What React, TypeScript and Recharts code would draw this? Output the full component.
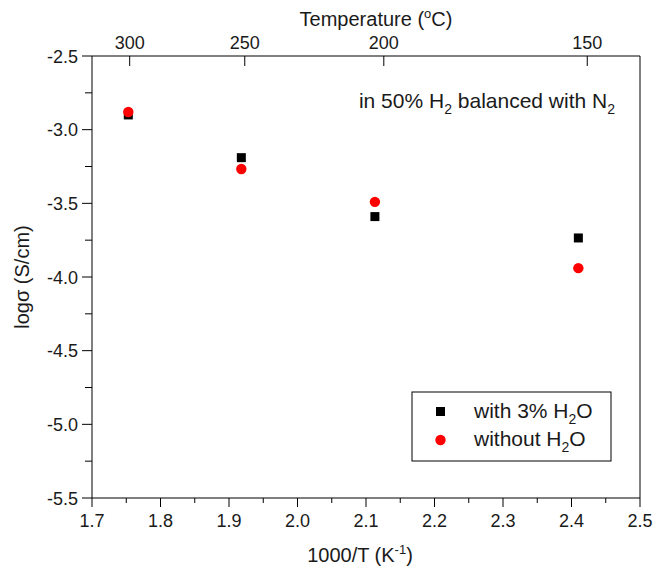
import { ScatterChart, Scatter, XAxis, YAxis } from 'recharts';

// 1000/T values (K^-1) and log conductivity for both atmospheres
const invT = [1.753, 1.918, 2.113, 2.41];
const withH2O = [-2.9, -3.19, -3.59, -3.735];
const withoutH2O = [-2.88, -3.267, -3.49, -3.94];

const xTicks = [1.7, 1.75, 1.8, 1.85, 1.9, 1.95, 2.0, 2.05, 2.1, 2.15, 2.2, 2.25, 2.3, 2.35, 2.4, 2.45, 2.5];
const yTicks = [-5.5, -5.25, -5.0, -4.75, -4.5, -4.25, -4.0, -3.75, -3.5, -3.25, -3.0, -2.75, -2.5];
const tempTicks = [1.755, 1.923, 2.126, 2.423];
const tempLabels = ['300', '250', '200', '150'];

const wetData = invT.map((x, i) => ({ x, y: withH2O[i] }));
const dryData = invT.map((x, i) => ({ x, y: withoutH2O[i] }));

const FONT = '"Liberation Sans", Arial, sans-serif';
const INK = '#1a1a1a';

const isMajor = (v: number, step: number) => Math.abs(v / step - Math.round(v / step)) < 1e-6;

const BottomTick = (props: any) => {
  const { x, y, payload } = props;
  const v = payload.value;
  const major = isMajor(v, 0.1);
  return (
    <g>
      <line x1={x} x2={x} y1={y} y2={y + (major ? 9 : 5)} stroke="#000" />
      {major && (
        <text x={x} y={y + 29} textAnchor="middle" fontSize={18} fontFamily={FONT} fill={INK}>
          {v.toFixed(1)}
        </text>
      )}
    </g>
  );
};

const LeftTick = (props: any) => {
  const { x, y, payload } = props;
  const v = payload.value;
  const major = isMajor(v, 0.5);
  return (
    <g>
      <line x1={x - (major ? 10 : 7)} x2={x} y1={y} y2={y} stroke="#000" />
      {major && (
        <text x={x - 14} y={y + 6.5} textAnchor="end" fontSize={18} fontFamily={FONT} fill={INK}>
          {v.toFixed(1)}
        </text>
      )}
    </g>
  );
};

const TopTick = (props: any) => {
  const { x, y, payload } = props;
  const idx = tempTicks.findIndex((t) => Math.abs(t - payload.value) < 1e-6);
  return (
    <g>
      <line x1={x} x2={x} y1={y} y2={y + 10} stroke="#000" />
      <text x={x} y={y - 7} textAnchor="middle" fontSize={18} fontFamily={FONT} fill={INK}>
        {idx >= 0 ? tempLabels[idx] : ''}
      </text>
    </g>
  );
};

const squareShape = (p: any) => <rect x={p.cx - 4.5} y={p.cy - 4.5} width={9} height={9} fill="#000" />;
const circleShape = (p: any) => <circle cx={p.cx} cy={p.cy} r={5.2} fill="#ff0000" />;
const noShape = () => <g />;

export default function App() {
  return (
    <div style={{ position: 'absolute', left: 0, top: 0, background: '#fff' }}>
      <ScatterChart width={653} height={573} margin={{ top: 0, right: 0, bottom: 0, left: 0 }}>
        <XAxis
          xAxisId="bottom"
          dataKey="x"
          type="number"
          domain={[1.7, 2.5]}
          ticks={xTicks}
          interval={0}
          height={75}
          tickSize={0}
          tickMargin={0}
          tickLine={false}
          tick={<BottomTick />}
          axisLine={{ stroke: '#000' }}
        />
        <XAxis
          xAxisId="top"
          dataKey="x"
          orientation="top"
          type="number"
          domain={[1.7, 2.5]}
          ticks={tempTicks}
          interval={0}
          height={56}
          tickSize={0}
          tickMargin={0}
          tickLine={false}
          tick={<TopTick />}
          axisLine={{ stroke: '#000' }}
        />
        <YAxis
          yAxisId="left"
          dataKey="y"
          type="number"
          domain={[-5.5, -2.5]}
          ticks={yTicks}
          interval={0}
          width={92}
          tickSize={0}
          tickMargin={0}
          tickLine={false}
          tick={<LeftTick />}
          axisLine={{ stroke: '#000' }}
        />
        <YAxis
          yAxisId="right"
          dataKey="y"
          orientation="right"
          type="number"
          domain={[-5.5, -2.5]}
          width={13}
          tick={false}
          tickLine={false}
          axisLine={{ stroke: '#000' }}
        />
        {/* invisible series so the temperature axis gets a scale */}
        <Scatter
          data={wetData}
          xAxisId="top"
          yAxisId="right"
          shape={noShape}
          legendType="none"
          isAnimationActive={false}
        />
        <Scatter
          name="with 3% H2O"
          data={wetData}
          xAxisId="bottom"
          yAxisId="left"
          shape={squareShape}
          isAnimationActive={false}
        />
        <Scatter
          name="without H2O"
          data={dryData}
          xAxisId="bottom"
          yAxisId="left"
          shape={circleShape}
          isAnimationActive={false}
        />

        {/* axis titles */}
        <text x={376} y={26} textAnchor="middle" fontSize={20} fontFamily={FONT} fill={INK}>
          Temperature (<tspan dy={-8} fontSize={13}>o</tspan>
          <tspan dy={8}>C)</tspan>
        </text>
        <text x={360} y={562} textAnchor="middle" fontSize={20} fontFamily={FONT} fill={INK}>
          1000/T (K<tspan dy={-8} fontSize={13}>-1</tspan>
          <tspan dy={8}>)</tspan>
        </text>
        <text
          x={0}
          y={0}
          transform="translate(29 277) rotate(-90)"
          textAnchor="middle"
          fontSize={20}
          fontFamily={FONT}
          fill={INK}
        >
          logσ (S/cm)
        </text>

        {/* annotation */}
        <text x={615} y={108} textAnchor="end" fontSize={21} fontFamily={FONT} fill={INK}>
          in 50% H<tspan dy={6} fontSize={14}>2</tspan>
          <tspan dy={-6}> balanced with N</tspan>
          <tspan dy={6} fontSize={14}>2</tspan>
        </text>

        {/* legend */}
        <g>
          <rect x={412} y={392} width={199} height={69} fill="#fff" stroke="#000" />
          <rect x={436} y={407} width={9} height={9} fill="#000" />
          <circle cx={440.5} cy={440} r={5.2} fill="#ff0000" />
          <text x={474} y={418} fontSize={21} fontFamily={FONT} fill={INK}>
            with 3% H<tspan dy={6} fontSize={14}>2</tspan>
            <tspan dy={-6}>O</tspan>
          </text>
          <text x={474} y={446} fontSize={21} fontFamily={FONT} fill={INK}>
            without H<tspan dy={6} fontSize={14}>2</tspan>
            <tspan dy={-6}>O</tspan>
          </text>
        </g>
      </ScatterChart>
    </div>
  );
}
